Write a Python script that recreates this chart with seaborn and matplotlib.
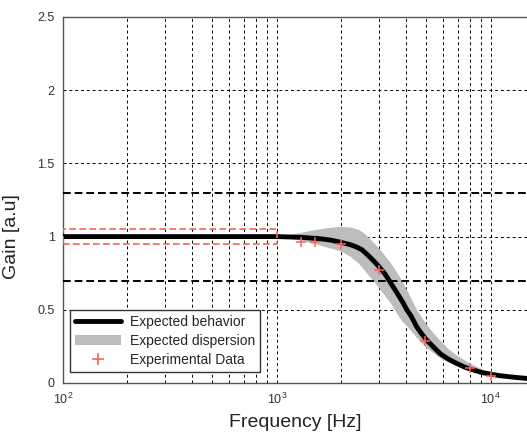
import numpy as np
import pandas as pd
import matplotlib
matplotlib.use("Agg")
import matplotlib.pyplot as plt
import seaborn as sns
from matplotlib.patches import Patch, Rectangle
from matplotlib.lines import Line2D

# expected behaviour
freq_line = [100, 300, 600, 1000, 1300, 1600, 1800, 2000, 2200, 2350, 2500, 2700, 2850,
             3000, 3200, 3350, 3500, 3700, 3900, 4050, 4250, 4500, 4700, 5000, 5400,
             5800, 6300, 6900, 7500, 8100, 9000, 10000, 11000, 12700, 15000, 20000]
gain_line = [1.0, 1.0, 1.0, 1.0, 0.995, 0.985, 0.975, 0.96, 0.945, 0.93, 0.91, 0.865, 0.83,
             0.795, 0.745, 0.70, 0.655, 0.60, 0.545, 0.50, 0.455, 0.385, 0.345, 0.295, 0.245,
             0.20, 0.165, 0.135, 0.11, 0.093, 0.073, 0.06, 0.05, 0.04, 0.03, 0.02]

# expected dispersion band
freq_band = [1000, 1150, 1300, 1600, 1800, 2000, 2200, 2400, 2550, 2700, 2850, 3000, 3200,
             3400, 3600, 3800, 4100, 4500, 5000, 5400, 5800, 6300, 7000, 8000, 10000]
band_hi = [1.0, 1.015, 1.03, 1.055, 1.065, 1.07, 1.065, 1.05, 1.025, 0.99, 0.955, 0.92, 0.87,
           0.82, 0.765, 0.71, 0.62, 0.50, 0.40, 0.34, 0.29, 0.235, 0.185, 0.135, 0.065]
band_lo = [1.0, 0.99, 0.975, 0.94, 0.92, 0.90, 0.865, 0.82, 0.775, 0.73, 0.69, 0.65, 0.595,
           0.545, 0.485, 0.43, 0.38, 0.31, 0.24, 0.205, 0.17, 0.145, 0.117, 0.09, 0.055]

# experimental data
freq_exp = [1300, 1500, 2000, 3000, 4900, 8000, 10000]
gain_exp = [0.965, 0.965, 0.95, 0.77, 0.29, 0.10, 0.045]

sns.set_style("white")
plt.rcParams['font.family'] = ['Liberation Sans', 'DejaVu Sans']
plt.rcParams['mathtext.fontset'] = 'custom'
plt.rcParams['mathtext.rm'] = 'Liberation Sans'

fig = plt.figure(figsize=(5.27, 4.38), dpi=100)
ax = fig.add_axes([0.1195, 0.1256, 0.934, 0.8356])

red = '#f4645a'

ax.fill_between(freq_band, band_lo, band_hi, color='#bdbdbd', lw=0, zorder=2)
df_line = pd.DataFrame({'f': freq_line, 'g': gain_line})
sns.lineplot(data=df_line, x='f', y='g', ax=ax, color='black', lw=3.5, zorder=4)
df_exp = pd.DataFrame({'f': freq_exp, 'g': gain_exp})
sns.scatterplot(data=df_exp, x='f', y='g', ax=ax, marker='+', color=red, s=50,
                linewidth=1.1, zorder=5)

# tolerance lines and box
for lvl in [1.3, 0.7]:
    ax.axhline(lvl, color='black', lw=1.4, ls=(0, (4, 2)), zorder=3)
ax.add_patch(Rectangle((100, 0.95), 900, 0.105, fill=False, ec=red, lw=1.2,
                       ls=(0, (4, 2)), zorder=6))

ax.set_xscale('log')
ax.set_xlim(100, 20000)
ax.set_ylim(0, 2.5)
ax.set_yticks([0, 0.5, 1, 1.5, 2, 2.5])
ax.set_yticklabels(['0', '0.5', '1', '1.5', '2', '2.5'])
ax.set_xticks([100, 1000, 10000])
ax.set_xticklabels([r'$\mathregular{10^2}$', r'$\mathregular{10^3}$', r'$\mathregular{10^4}$'])

ax.grid(True, which='both', axis='x', color='black', lw=0.7, ls=(0, (3, 3)), zorder=1)
ax.grid(True, which='major', axis='y', color='black', lw=0.7, ls=(0, (3, 3)), zorder=1)
ax.tick_params(which='both', direction='in', labelsize=9, colors='#333333')
ax.tick_params(which='major', length=4, pad=6)
ax.tick_params(which='minor', length=2)
for sp in ax.spines.values():
    sp.set_color('#555555')
    sp.set_linewidth(1.0)

ax.set_xlabel('Frequency [Hz]', fontsize=14, color='#222222')
ax.set_ylabel('Gain [a.u]', fontsize=14, color='#222222')
ax.xaxis.set_label_coords(0.472, -0.085)
ax.yaxis.set_label_coords(-0.088, 0.40)

handles = [Line2D([0], [0], color='black', lw=3.5),
           Patch(facecolor='#bdbdbd', edgecolor='none'),
           Line2D([0], [0], marker='+', color=red, lw=0, markersize=8, mew=1.2)]
labels = ['Expected behavior', 'Expected dispersion', 'Experimental Data']
leg = ax.legend(handles, labels, loc='lower left', bbox_to_anchor=(0.0, 0.01),
                fontsize=10, fancybox=False, framealpha=1, edgecolor='#333333',
                handlelength=3.3, borderpad=0.4, labelspacing=0.35, handletextpad=0.6)
leg.get_frame().set_linewidth(1.0)
leg.set_zorder(10)

fig.savefig('out.png', dpi=100)
